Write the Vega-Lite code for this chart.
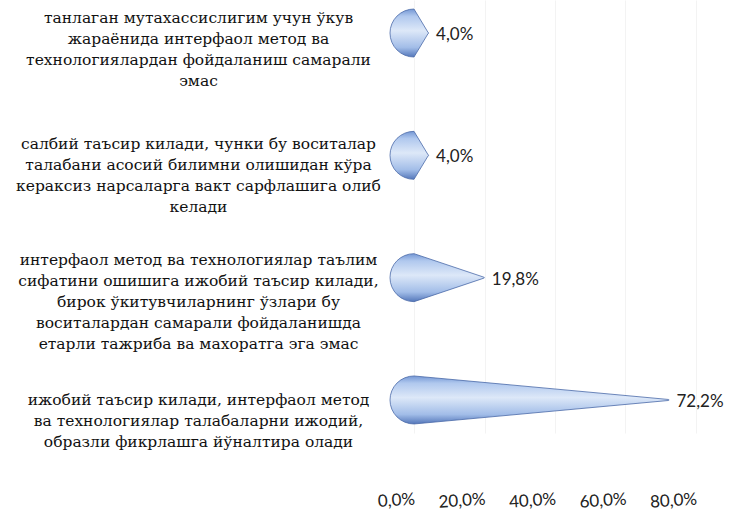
{
  "$schema": "https://vega.github.io/schema/vega-lite/v6.json",
  "autosize": "none",
  "width": 282,
  "height": 433,
  "padding": {"left": 414, "top": 0, "right": 50, "bottom": 93},
  "background": "white",
  "data": {
    "values": [
      {"q": "танлаган мутахассислигим учун ўкув|жараёнида интерфаол метод ва|технологиялардан фойдаланиш самарали|эмас", "start": 0, "pct": 0.04},
      {"q": "салбий таъсир килади, чунки бу воситалар|талабани асосий билимни олишидан кўра|кераксиз нарсаларга вакт сарфлашига олиб|келади", "start": 0, "pct": 0.04},
      {"q": "интерфаол метод ва технологиялар таълим|сифатини ошишига ижобий таъсир килади,|бирок ўкитувчиларнинг ўзлари бу|воситалардан самарали фойдаланишда|етарли тажриба ва  махоратга эга эмас", "start": 0, "pct": 0.198},
      {"q": "ижобий таъсир килади,  интерфаол метод|ва технологиялар талабаларни ижодий,|образли фикрлашга йўналтира олади", "start": 0, "pct": 0.722}
    ]
  },
  "encoding": {
    "y": {
      "field": "q",
      "type": "nominal",
      "sort": null,
      "scale": {"type": "point", "padding": 0.27},
      "axis": {
        "title": null,
        "domain": false,
        "ticks": false,
        "grid": false,
        "labelExpr": "split(datum.label, '|')",
        "labelAlign": "center",
        "labelBaseline": "middle",
        "labelPadding": 216,
        "labelLimit": 440,
        "labelOffset": {
          "condition": [
            {"test": "indexof(datum.value, 'танлаган') === 0", "value": -16},
            {"test": "indexof(datum.value, 'салбий') === 0", "value": -12},
            {"test": "indexof(datum.value, 'интерфаол') === 0", "value": -18}
          ],
          "value": 0
        },
        "labelFont": "DejaVu Serif",
        "labelFontSize": 15.5,
        "labelLineHeight": 21,
        "labelColor": "#111111"
      }
    }
  },
  "layer": [
    {
      "transform": [{"fold": ["start", "pct"]}],
      "mark": {
        "type": "trail",
        "stroke": "#4a6aa8",
        "strokeWidth": 0.8,
        "color": {
          "gradient": "linear",
          "x1": 0, "y1": 0, "x2": 0, "y2": 1,
          "stops": [
            {"offset": 0, "color": "#7497d4"},
            {"offset": 0.15, "color": "#b0c8ee"},
            {"offset": 0.45, "color": "#dde8f8"},
            {"offset": 0.8, "color": "#a2bde8"},
            {"offset": 1, "color": "#5477ba"}
          ]
        }
      },
      "encoding": {
        "x": {
          "field": "value",
          "type": "quantitative",
          "scale": {"domain": [0, 0.8], "nice": false},
          "axis": {
            "title": null,
            "values": [0, 0.2, 0.4, 0.6, 0.8],
            "format": ".1%",
            "domain": false,
            "ticks": false,
            "grid": true,
            "gridColor": "#f3f3f3",
            "labelPadding": 58,
            "labelAngle": -4,
            "labelFont": "Lato",
            "labelFontSize": 17,
            "labelColor": "#222222"
          }
        },
        "size": {
          "field": "key",
          "type": "nominal",
          "scale": {"domain": ["start", "pct"], "range": [48, 0]},
          "legend": null
        },
        "detail": {"field": "q"}
      }
    },
    {
      "mark": {"type": "text", "align": "left", "baseline": "middle", "dx": 8, "dy": 2, "font": "Lato", "fontSize": 17, "color": "#222222"},
      "encoding": {
        "x": {"field": "pct", "type": "quantitative"},
        "text": {"field": "pct", "type": "quantitative", "format": ".1%"}
      }
    }
  ],
  "config": {
    "view": {"stroke": null},
    "locale": {"number": {"decimal": ",", "thousands": " ", "grouping": [3], "currency": ["", ""]}}
  }
}
